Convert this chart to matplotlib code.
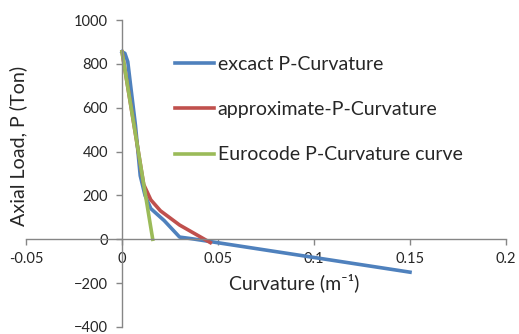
import matplotlib
matplotlib.use("Agg")
import matplotlib.pyplot as plt

plt.rcParams['font.family'] = ['Lato', 'DejaVu Sans']

# P-curvature curves (curvature in 1/m, axial load in Ton)
exact_k = [0.0, 0.0015, 0.003, 0.0045, 0.007, 0.0095, 0.012, 0.015, 0.022, 0.030, 0.036, 0.15]
exact_p = [855, 848, 810, 700, 520, 290, 200, 140, 85, 10, 3, -150]

approx_k = [0.0, 0.0113, 0.015, 0.020, 0.030, 0.046]
approx_p = [855, 250, 180, 130, 65, -15]

euro_k = [0.0, 0.016]
euro_p = [855, 0]

labels = ['excact P-Curvature', 'approximate-P-Curvature', 'Eurocode P-Curvature curve']
colors = ['#4f81bd', '#c0504d', '#9bbb59']

x_ticks = [-0.05, 0, 0.05, 0.1, 0.15, 0.2]
x_ticklabels = ['-0.05', '0', '0.05', '0.1', '0.15', '0.2']
y_ticks = [-400, -200, 0, 200, 400, 600, 800, 1000]

fig = plt.figure(figsize=(5.19, 3.34), dpi=100)
ax = fig.add_axes([26 / 519, 7 / 334, 480 / 519, 307 / 334])

ax.plot(exact_k, exact_p, color=colors[0], lw=2.6, label=labels[0])
ax.plot(approx_k, approx_p, color=colors[1], lw=2.6, label=labels[1])
ax.plot(euro_k, euro_p, color=colors[2], lw=2.6, label=labels[2])

ax.set_xlim(-0.05, 0.2)
ax.set_ylim(-400, 1000)
ax.set_xticks(x_ticks)
ax.set_xticklabels(x_ticklabels)
ax.set_yticks(y_ticks)

# axes cross at zero, Excel style
ax.spines['left'].set_position(('data', 0))
ax.spines['bottom'].set_position(('data', 0))
ax.spines['top'].set_visible(False)
ax.spines['right'].set_visible(False)
for s in ['left', 'bottom']:
    ax.spines[s].set_color('#868686')
    ax.spines[s].set_linewidth(1.0)
ax.tick_params(axis='both', direction='out', length=4, width=1.0, color='#868686',
               labelsize=10.5, labelcolor='#262626')
ax.tick_params(axis='x', pad=5)
ax.tick_params(axis='y', pad=6)
ax.patch.set_alpha(0)

fig.text(18 / 519, 1 - 146 / 334, 'Axial Load, P (Ton)', rotation=90,
         ha='center', va='center', fontsize=14.2, color='#262626')
fig.text(294 / 519, 1 - 283 / 334, 'Curvature (m\u207b\u00b9)',
         ha='center', va='center', fontsize=14, color='#262626')

ax.legend(loc='upper left', bbox_to_anchor=(175 / 519, 1 - 56 / 334),
          bbox_transform=fig.transFigure, frameon=False, borderpad=0,
          borderaxespad=0, handlelength=2.0, handletextpad=0.2,
          labelspacing=1.45, fontsize=14, labelcolor='#262626')

fig.savefig('out.png', dpi=100)
